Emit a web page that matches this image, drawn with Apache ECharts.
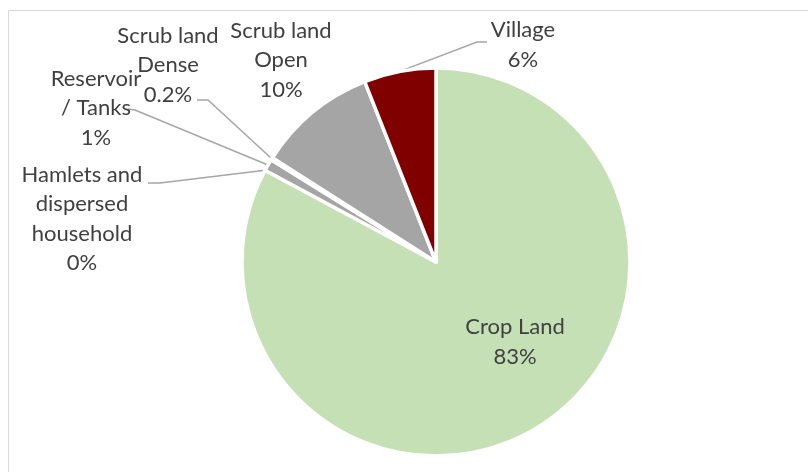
<!DOCTYPE html>
<html>
<head>
<meta charset="utf-8">
<script src="https://cdn.jsdelivr.net/npm/echarts@6/dist/echarts.min.js"></script>
<style>
  html, body { margin: 0; padding: 0; background: #fff; }
  #chart { width: 808px; height: 472px; }
</style>
</head>
<body>
<div id="chart"></div>
<script>
// Land use shares (%), listed clockwise from 12 o'clock
const categories = [
  'Crop Land',
  'Hamlets and\ndispersed\nhousehold',
  'Reservoir\n/ Tanks',
  'Scrub land\nDense',
  'Scrub land\nOpen',
  'Village'
];
const shares = [83, 0, 1, 0.2, 10, 6];
const colors = ['#C5E0B4', '#ED7D31', '#A5A5A5', '#A5A5A5', '#A5A5A5', '#800000'];

// Label block centres and leader-line elbows (null = no leader line)
const labelCenters = [[515, 342], [82, 219], [96, 108], [168, 65], [281, 60], [523, 45]];
const labelElbows = [
  null,
  [[148, 183], [160, 183]],
  [[128, 109], [135, 110]],
  [[197, 100], [208, 100]],
  null,
  [[487, 42], [477, 42]]
];

const chart = echarts.init(document.getElementById('chart'));

const data = categories.map((name, i) => ({
  name: name,
  value: shares[i],
  itemStyle: i === 1
    ? { color: colors[i], borderColor: 'rgba(237,125,49,0.55)', borderWidth: 1 }
    : { color: colors[i] },
  labelLine: { show: labelElbows[i] !== null }
}));

chart.setOption({
  backgroundColor: '#ffffff',
  animation: false,
  graphic: [{
    type: 'rect',
    shape: { x: 8.5, y: 10.5, width: 830, height: 490 },
    style: { fill: 'none', stroke: '#D9D9D9', lineWidth: 1 },
    silent: true,
    z: -1
  }],
  series: [{
    type: 'pie',
    center: [436, 262],
    radius: 194,
    startAngle: 90,
    clockwise: true,
    data: data,
    itemStyle: { borderColor: '#ffffff', borderWidth: 3.5 },
    label: {
      show: true,
      formatter: p => p.name + '\n' + p.value + '%',
      fontFamily: 'Lato, "Noto Sans", sans-serif',
      fontSize: 22,
      lineHeight: 29.5,
      color: '#404040',
      align: 'center'
    },
    labelLine: {
      lineStyle: { color: '#A6A6A6', width: 1.5 },
      length: 10,
      length2: 10
    },
    labelLayout: function (params) {
      const i = params.dataIndex;
      const c = labelCenters[i];
      const out = { x: c[0], y: c[1], align: 'center', verticalAlign: 'middle', hideOverlap: false };
      const elbow = labelElbows[i];
      if (elbow && params.labelLinePoints) {
        const edge = params.labelLinePoints[0];
        out.labelLinePoints = [edge, elbow[1], elbow[0]];
      }
      return out;
    }
  }]
});
</script>
</body>
</html>
